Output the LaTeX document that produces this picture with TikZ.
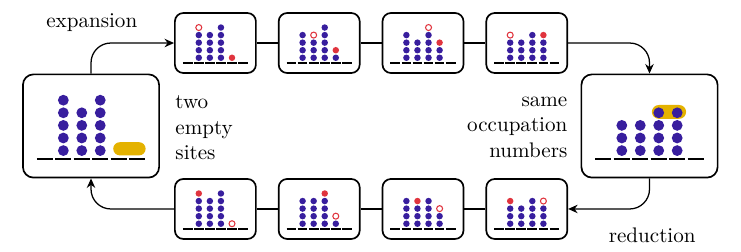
\documentclass[tikz,border=0pt]{standalone}
\usetikzlibrary{arrows.meta}

\definecolor{dotblue}{RGB}{56,30,158}
\definecolor{dotred}{RGB}{224,52,62}
\definecolor{baryellow}{RGB}{228,178,0}

\tikzset{
  bigbox/.style={draw, thick, rounded corners=5pt, minimum width=2.27cm, minimum height=1.72cm, inner sep=0pt},
  smallbox/.style={draw, thick, rounded corners=4pt, minimum width=1.35cm, minimum height=1cm, inner sep=0pt},
  sitedash/.style={line width=1pt},
  boson/.style={fill=dotblue},
  added/.style={fill=dotred},
  removed/.style={draw=dotred, line width=0.5pt, fill=white},
  mini/.style={scale=0.6, sitedash/.style={line width=0.65pt}},
  link/.style={semithick},
  flow/.style={semithick, rounded corners=0.33cm, -{Stealth[length=4.5pt,width=4pt]}},
  glue/.style={fill=baryellow},
}

% six sites, columns of particles
\newcommand{\lattice}[1]{%
  \foreach \i in {1,...,6}
    \draw[sitedash] ({(\i-3.5)*0.3075-0.135},-0.555) -- ({(\i-3.5)*0.3075+0.135},-0.555);
  \foreach \h [count=\i] in {#1} {
    \ifnum\h>0
      \foreach \r in {1,...,\h}
        \fill[boson] ({(\i-3.5)*0.3075},{(\r-1)*0.21-0.41}) circle (0.09);
    \fi
  }
}
\newcommand{\added}[2]{\fill[added] ({(#1-3.5)*0.3075},{(#2-1)*0.21-0.41}) circle (0.09);}
\newcommand{\removed}[2]{\draw[removed] ({(#1-3.5)*0.3075},{(#2-1)*0.21-0.41}) circle (0.083);}

\begin{document}
\begin{tikzpicture}
\useasboundingbox (0,0) rectangle (12.35,-4.2);

\node[bigbox] (left) at (1.517,-2.1) {};
\node[bigbox] (right) at (10.825,-2.1) {};

\node[smallbox] (t1) at (3.59,-0.717) {};
\node[smallbox] (t2) at (5.32,-0.717) {};
\node[smallbox] (t3) at (7.05,-0.717) {};
\node[smallbox] (t4) at (8.78,-0.717) {};

\node[smallbox] (b1) at (3.59,-3.483) {};
\node[smallbox] (b2) at (5.32,-3.483) {};
\node[smallbox] (b3) at (7.05,-3.483) {};
\node[smallbox] (b4) at (8.78,-3.483) {};

\node (expansion) at (1.53,-0.37) {expansion};
\node (reduction) at (10.87,-3.92) {reduction};
\node[align=left, anchor=west] (empty) at (2.8,-2.13) {two\\empty\\sites};
\node[align=right, anchor=east] (same) at (9.58,-2.12) {same\\occupation\\numbers};

% big configurations
\begin{scope}[shift={(left.center)}]
  \fill[glue, rounded corners=0.11cm] (0.37,-0.27) rectangle (0.91,-0.49);
  \lattice{0,5,4,5,0,0}
\end{scope}
\begin{scope}[shift={(right.center)}]
  \fill[glue, rounded corners=0.115cm] (0.04,0.12) rectangle (0.61,0.35);
  \lattice{0,3,3,4,4,0}
\end{scope}

% expansion steps
\begin{scope}[shift={(t1.center)}, mini]
  \lattice{0,4,4,5,0,0} \added{5}{1} \removed{2}{5}
\end{scope}
\begin{scope}[shift={(t2.center)}, mini]
  \lattice{0,4,3,5,1,0} \added{5}{2} \removed{3}{4}
\end{scope}
\begin{scope}[shift={(t3.center)}, mini]
  \lattice{0,4,3,4,2,0} \added{5}{3} \removed{4}{5}
\end{scope}
\begin{scope}[shift={(t4.center)}, mini]
  \lattice{0,3,3,4,3,0} \added{5}{4} \removed{2}{4}
\end{scope}

% reduction steps
\begin{scope}[shift={(b1.center)}, mini]
  \lattice{0,4,4,5,0,0} \added{2}{5} \removed{5}{1}
\end{scope}
\begin{scope}[shift={(b2.center)}, mini]
  \lattice{0,4,4,4,1,0} \added{4}{5} \removed{5}{2}
\end{scope}
\begin{scope}[shift={(b3.center)}, mini]
  \lattice{0,4,3,4,2,0} \added{3}{4} \removed{5}{3}
\end{scope}
\begin{scope}[shift={(b4.center)}, mini]
  \lattice{0,3,3,4,3,0} \added{2}{4} \removed{5}{4}
\end{scope}

\draw[flow] (left.north) |- (t1.west);
\draw[link] (t1.east) -- (t2.west);
\draw[link] (t2.east) -- (t3.west);
\draw[link] (t3.east) -- (t4.west);
\draw[flow] (t4.east) -| (right.north);

\draw[flow] (right.south) |- (b4.east);
\draw[link] (b4.west) -- (b3.east);
\draw[link] (b3.west) -- (b2.east);
\draw[link] (b2.west) -- (b1.east);
\draw[flow] (b1.west) -| (left.south);

\end{tikzpicture}
\end{document}
